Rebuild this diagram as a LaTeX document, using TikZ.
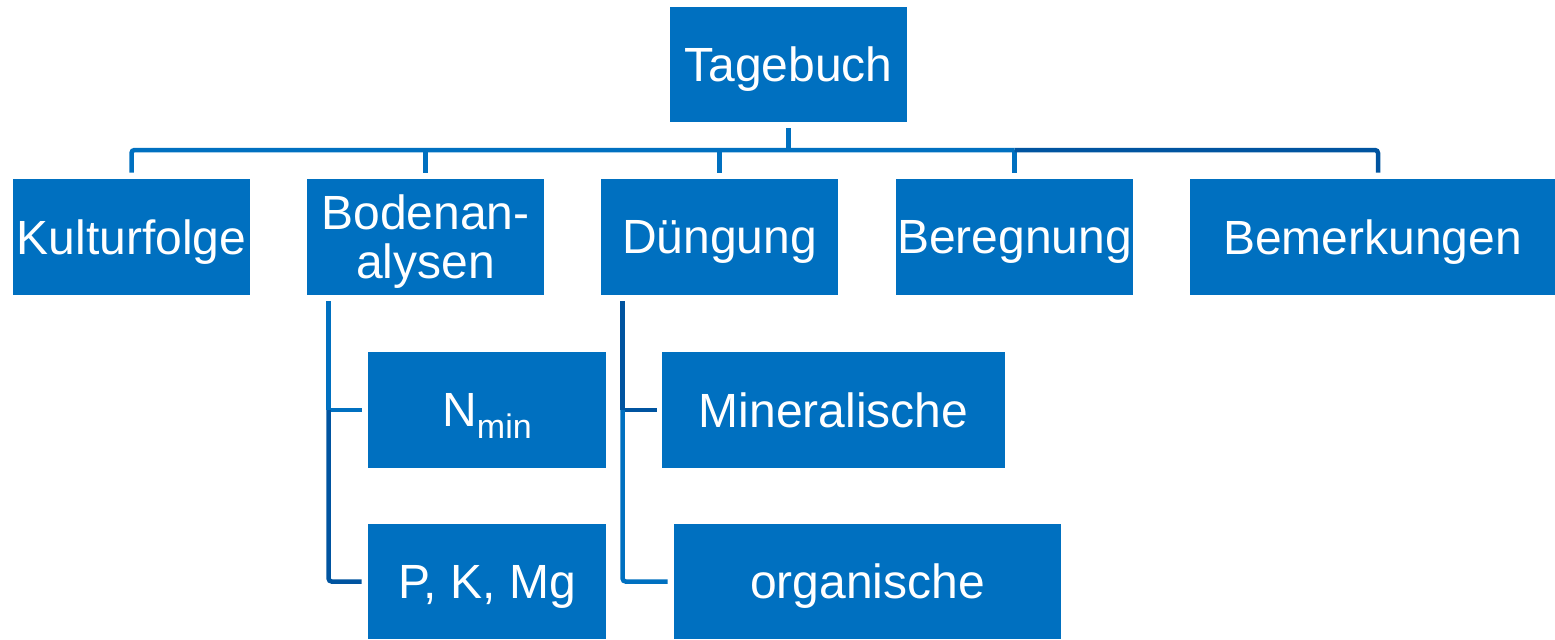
\documentclass[tikz,border=0pt]{standalone}
\usepackage{fontspec}
\setmainfont{Liberation Sans}
\usetikzlibrary{calc}
\definecolor{boxblue}{RGB}{0,112,192}
\definecolor{lineblue}{RGB}{0,112,192}
\definecolor{darkline}{RGB}{0,84,160}
\tikzset{
  box/.style={rectangle, fill=boxblue, draw=none, text=white, inner sep=0pt,
    align=center, font=\fontsize{24}{24.5}\selectfont, text depth=0pt,
    minimum width=118.5pt, minimum height=58pt},
  lc/.style={draw=lineblue, line width=2.25pt},
  dc/.style={draw=darkline, line width=2.25pt},
}
\begin{document}
\begin{tikzpicture}[x=0.5pt,y=-0.5pt]
\useasboundingbox (0,0) rectangle (1555,639);
% nodes
\node[box, minimum height=57.5pt] (tag) at (788.5,64.5) {Tagebuch};
\node[box] (kult) at (131.5,237) {Kulturfolge};
\node[box] (boden) at (425.5,237) {Bodenan-\\alysen};
\node[box] (dung) at (719.5,237) {Düngung};
\node[box] (ber) at (1014.5,237) {Beregnung};
\node[box, minimum width=182.5pt] (bem) at (1372.5,237) {Bemerkungen};
\node[box, minimum width=119pt] (nmin) at (487,410) {N\raisebox{-6pt}{\fontsize{17}{17}\selectfont min}};
\node[box, minimum width=119pt, minimum height=57.5pt] (pkm) at (487,581.5) {P, K, Mg};
\node[box, minimum width=171.5pt] (mine) at (833.5,410) {Mineralische};
\node[box, minimum width=193.5pt, minimum height=57.5pt] (org) at (867.5,581.5) {organische};
% bus
\coordinate (busy) at (0,150);
\draw[lc, shorten <=3pt] (tag.south) -- (tag.south |- busy);
\draw[lc, rounded corners=1.5pt, shorten <=3pt] (kult.north) -- (kult.north |- busy) -- (ber.north |- busy);
\draw[lc, shorten <=3pt] (boden.north) -- (boden.north |- busy);
\draw[lc, shorten <=3pt] (dung.north) -- (dung.north |- busy);
\draw[lc, shorten <=3pt] (ber.north) -- (ber.north |- busy);
\coordinate (bemtop) at ($(bem.north)+(5.5,0)$);
\draw[dc, rounded corners=1.5pt, shorten >=3pt] (ber.north |- busy) -- (bemtop |- busy) -- (bemtop);
% Bodenanalysen branch
\coordinate (bv) at ($(boden.south west)+(22,0)$);
\draw[lc, shorten <=3pt] (bv) -- (bv |- nmin.west);
\draw[lc, shorten >=3pt] (bv |- nmin.west) -- (nmin.west);
\draw[dc, rounded corners=1.5pt, shorten >=3pt] (bv |- nmin.west) -- (bv |- pkm.west) -- (pkm.west);
% Duengung branch
\coordinate (dv) at ($(dung.south west)+(22,0)$);
\draw[dc, shorten <=3pt] (dv) -- (dv |- mine.west);
\draw[dc, shorten >=2.5pt] (dv |- mine.west) -- (mine.west);
\draw[lc, rounded corners=1.5pt, shorten >=3pt] (dv |- mine.west) -- (dv |- org.west) -- (org.west);
\end{tikzpicture}
\end{document}
